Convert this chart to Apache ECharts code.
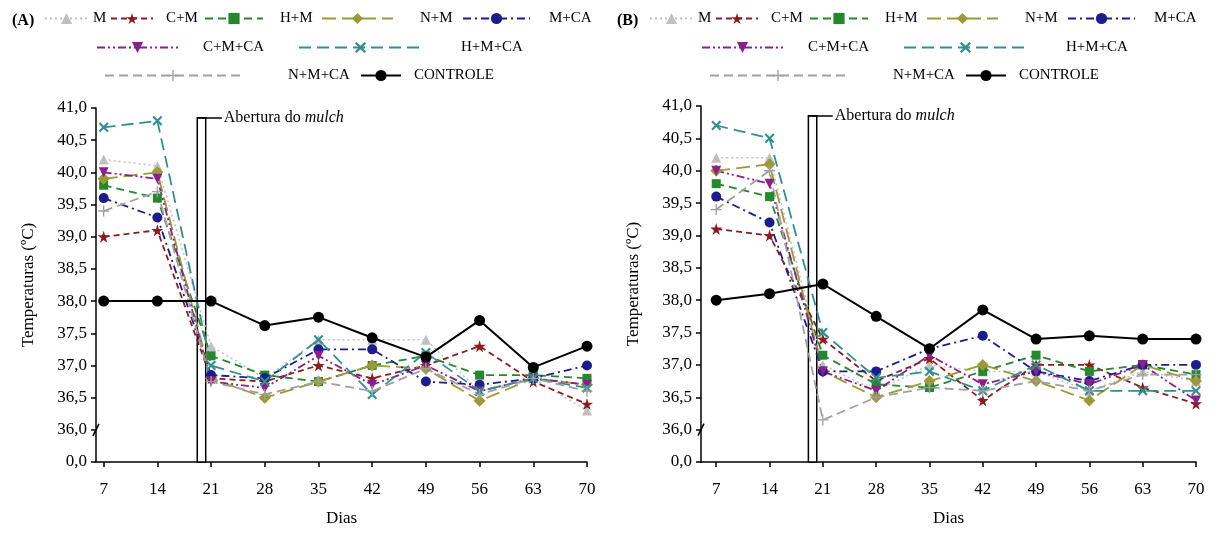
<!DOCTYPE html>
<html>
<head>
<meta charset="utf-8">
<title>Temperaturas</title>
<script src="https://cdn.jsdelivr.net/npm/echarts@6/dist/echarts.min.js"></script>
<style>
    html, body { margin: 0; padding: 0; background: #fff; }
    #main { width: 1217px; height: 534px; }
</style>
</head>
<body>
<div id="main"></div>
<script>
// dados (dias de avaliação)
var dias = [7, 14, 21, 28, 35, 42, 49, 56, 63, 70];
var nomes = ['M', 'C+M', 'H+M', 'N+M', 'M+CA', 'C+M+CA', 'H+M+CA', 'N+M+CA', 'CONTROLE'];

// painel (A)
var M_A      = [40.2, 40.1, 37.3, 36.8, 37.4, 37.4, 37.4, 36.6, 36.8, 36.3];
var CM_A     = [39.0, 39.1, 36.8, 36.75, 37.0, 36.8, 37.0, 37.3, 36.75, 36.4];
var HM_A     = [39.8, 39.6, 37.15, 36.85, 36.75, 37.0, 37.15, 36.85, 36.85, 36.8];
var NM_A     = [39.9, 40.0, 36.8, 36.5, 36.75, 37.0, 36.95, 36.45, 36.8, 36.7];
var MCA_A    = [39.6, 39.3, 36.85, 36.8, 37.25, 37.25, 36.75, 36.7, 36.8, 37.0];
var CMCA_A   = [40.0, 39.9, 36.75, 36.65, 37.15, 36.7, 37.0, 36.6, 36.8, 36.7];
var HMCA_A   = [40.7, 40.8, 37.0, 36.75, 37.4, 36.55, 37.2, 36.6, 36.8, 36.65];
var NMCA_A   = [39.4, 39.7, 36.75, 36.55, 36.75, 36.6, 36.95, 36.55, 36.8, 36.6];
var CTRL_A   = [38.0, 38.0, 38.0, 37.62, 37.75, 37.43, 37.13, 37.7, 36.97, 37.3];

// painel (B)
var M_B      = [40.2, 40.2, 37.0, 36.6, 37.0, 36.9, 36.9, 36.6, 36.9, 36.75];
var CM_B     = [39.1, 39.0, 37.4, 36.75, 37.1, 36.45, 37.0, 37.0, 36.65, 36.4];
var HM_B     = [39.8, 39.6, 37.15, 36.7, 36.65, 36.9, 37.15, 36.9, 37.0, 36.85];
var NM_B     = [40.0, 40.1, 36.9, 36.5, 36.75, 37.0, 36.75, 36.45, 37.0, 36.75];
var MCA_B    = [39.6, 39.2, 36.9, 36.9, 37.25, 37.45, 36.9, 36.75, 37.0, 37.0];
var CMCA_B   = [40.0, 39.8, 36.9, 36.6, 37.15, 36.7, 36.9, 36.7, 37.0, 36.45];
var HMCA_B   = [40.7, 40.5, 37.5, 36.8, 36.9, 36.6, 37.0, 36.6, 36.6, 36.6];
var NMCA_B   = [39.4, 40.0, 36.15, 36.5, 36.65, 36.6, 36.75, 36.6, 36.85, 36.85];
var CTRL_B   = [38.0, 38.1, 38.25, 37.75, 37.25, 37.85, 37.4, 37.45, 37.4, 37.4];

// abertura do mulch (dias) e limites do eixo
var mulchA = [19.2, 20.3];
var mulchB = [19.1, 20.2];
var mulchTopo = 40.85;
var eixoMinY = 35.5;   // rotulado como "0,0" (eixo quebrado)
var eixoMaxY = 41;

var paineis = [
    { rotulo: '(A)', series: [M_A, CM_A, HM_A, NM_A, MCA_A, CMCA_A, HMCA_A, NMCA_A, CTRL_A], mulch: mulchA, xMin: 6 },
    { rotulo: '(B)', series: [M_B, CM_B, HM_B, NM_B, MCA_B, CMCA_B, HMCA_B, NMCA_B, CTRL_B], mulch: mulchB, xMin: 5 }
];

// simbolos extras
var STAR = 'path://M50,0 L61,35 L98,35 L68,57 L79,91 L50,70 L21,91 L32,57 L2,35 L39,35 Z';
var CROSS = 'path://M0,15 L15,0 L50,35 L85,0 L100,15 L65,50 L100,85 L85,100 L50,65 L15,100 L0,85 L35,50 Z';
var PLUS = 'path://M44,0 L56,0 L56,44 L100,44 L100,56 L56,56 L56,100 L44,100 L44,56 L0,56 L0,44 L44,44 Z';

// estilo de cada tratamento
var estilos = [
    { cor: '#c0c0c0', tipo: [2, 3],             simbolo: 'triangle', tam: 10, rot: 0,   larg: 1.5 },
    { cor: '#8c1c1c', tipo: [6, 4],             simbolo: STAR,       tam: 12, rot: 0,   larg: 1.8 },
    { cor: '#23892a', tipo: [8, 5],             simbolo: 'rect',     tam: 9,  rot: 0,   larg: 1.8 },
    { cor: '#9b9a36', tipo: [14, 6],            simbolo: 'diamond',  tam: 12, rot: 0,   larg: 1.8 },
    { cor: '#1c1c8c', tipo: [8, 4, 2, 4],       simbolo: 'circle',   tam: 10, rot: 0,   larg: 1.8 },
    { cor: '#8c1f8c', tipo: [8, 3, 2, 3, 2, 3], simbolo: 'triangle', tam: 10, rot: 180, larg: 1.8 },
    { cor: '#31908f', tipo: [12, 6],            simbolo: CROSS,      tam: 10, rot: 0,   larg: 1.8 },
    { cor: '#a0a0a0', tipo: [9, 5],             simbolo: PLUS,       tam: 11, rot: 0,   larg: 1.8 },
    { cor: '#000000', tipo: 'solid',            simbolo: 'circle',   tam: 11, rot: 0,   larg: 2 }
];

// posicao da legenda de cada item: [left, top, largura do icone, afastamento do texto]
var legLayout = [
    [44, 11, 43, 0], [110, 11, 42, 8], [204, 11, 58, 12], [321, 11, 71, 22], [462, 11, 67, 14],
    [96, 40, 81, 20], [298, 40, 123, 34],
    [104, 68, 136, 42], [360, 68, 40, 8]
];
var gridLayout = [
    { left: 96, right: 630, top: 108, bottom: 72 },
    { left: 701, right: 21, top: 106, bottom: 72 }
];
var deslocB = 605;

var FONTE = 'Liberation Serif';

function fmtY(v) {
    if (Math.abs(v - eixoMinY) < 1e-6) return '0,0';
    return v.toFixed(1).replace('.', ',');
}

var chart = echarts.init(document.getElementById('main'));

var titles = [], legends = [], grids = [], xAxes = [], yAxes = [], series = [];

paineis.forEach(function (p, pi) {
    var dx = pi === 0 ? 0 : deslocB;
    titles.push({
        text: p.rotulo, left: 7 + dx, top: 8,
        textStyle: { fontFamily: FONTE, fontSize: 16, fontWeight: 'bold', color: '#000' }
    });
    grids.push(gridLayout[pi]);
    xAxes.push({
        type: 'value', gridIndex: pi, min: p.xMin, max: 70,
        name: 'Dias', nameLocation: 'middle', nameGap: 48,
        nameTextStyle: { fontFamily: FONTE, fontSize: 17, color: '#000' },
        axisLine: { onZero: false, lineStyle: { color: '#000', width: 1.5 } },
        axisTick: { customValues: dias, length: 5, lineStyle: { color: '#000', width: 1.5 } },
        axisLabel: { customValues: dias, margin: 19, fontFamily: FONTE, fontSize: 17, color: '#000' },
        splitLine: { show: false }
    });
    yAxes.push({
        type: 'value', gridIndex: pi, min: eixoMinY, max: eixoMaxY, interval: 0.5,
        name: 'Temperaturas (ºC)', nameLocation: 'middle', nameGap: 59,
        nameTextStyle: { fontFamily: FONTE, fontSize: 17, color: '#000' },
        axisLine: { show: true, lineStyle: { color: '#000', width: 1.5 } },
        axisTick: { show: true, length: 5, lineStyle: { color: '#000', width: 1.5 } },
        axisLabel: { formatter: fmtY, margin: 9, fontFamily: FONTE, fontSize: 17, color: '#000' },
        splitLine: { show: false }
    });

    p.series.forEach(function (vals, si) {
        var e = estilos[si];
        var s = {
            name: nomes[si],
            type: 'line',
            xAxisIndex: pi, yAxisIndex: pi,
            data: dias.map(function (d, k) { return [d, vals[k]]; }),
            symbol: e.simbolo, symbolSize: e.tam, symbolRotate: e.rot,
            showSymbol: true,
            itemStyle: { color: e.cor, borderWidth: 0 },
            lineStyle: { color: e.cor, type: e.tipo, width: e.larg },
            emphasis: { disabled: true },
            animation: false
        };
        if (si === nomes.length - 1) {
            // retangulo da abertura do mulch + rotulo
            s.markArea = {
                silent: true,
                itemStyle: { color: '#fff', borderColor: '#000', borderWidth: 1.5 },
                data: [[{ coord: [p.mulch[0], eixoMinY] }, { coord: [p.mulch[1], mulchTopo] }]]
            };
            s.markLine = {
                silent: true, symbol: 'none', animation: false,
                lineStyle: { color: '#000', type: 'solid', width: 1.5 },
                label: {
                    show: true, position: 'end', distance: 2,
                    formatter: '{a|Abertura do }{b|mulch}',
                    rich: {
                        a: { fontFamily: FONTE, fontSize: 16, color: '#000' },
                        b: { fontFamily: FONTE, fontSize: 16, fontStyle: 'italic', color: '#000' }
                    }
                },
                data: [[{ coord: [p.mulch[0], mulchTopo] }, { coord: [p.mulch[1] + 2.1, mulchTopo] }]]
            };
        }
        series.push(s);
    });

    legLayout.forEach(function (l, li) {
        legends.push({
            data: [nomes[li]],
            left: l[0] + dx, top: l[1],
            padding: 0,
            itemWidth: l[2], itemHeight: 14,
            selectedMode: false,
            textStyle: { fontFamily: FONTE, fontSize: 15, color: '#000', padding: [0, 0, 0, l[3]] }
        });
    });
});

chart.setOption({
    backgroundColor: '#fff',
    animation: false,
    title: titles,
    legend: legends,
    grid: grids,
    xAxis: xAxes,
    yAxis: yAxes,
    series: series
});

// marca de quebra do eixo Y (entre 0,0 e 36,0)
var quebras = [];
paineis.forEach(function (p, pi) {
    var pt = chart.convertToPixel({ gridIndex: pi }, [p.xMin, 36.0]);
    quebras.push({
        type: 'line', silent: true,
        shape: { x1: pt[0] - 3, y1: pt[1] + 6, x2: pt[0] + 3, y2: pt[1] - 6 },
        style: { stroke: '#000', lineWidth: 1.5 }
    });
});
chart.setOption({ graphic: quebras });
</script>
</body>
</html>
